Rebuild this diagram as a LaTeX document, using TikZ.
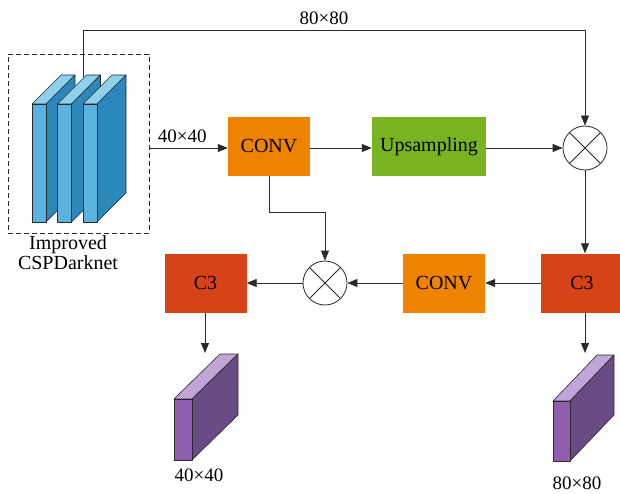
\documentclass[tikz,border=0pt]{standalone}
\usepackage{fontspec}
\setmainfont{Liberation Serif}
\usetikzlibrary{arrows.meta,calc}

\definecolor{convorange}{HTML}{EE8300}
\definecolor{upsgreen}{HTML}{78B422}
\definecolor{cthreered}{HTML}{D64318}
\definecolor{bluefront}{HTML}{5AB3DF}
\definecolor{blueside}{HTML}{2A88BD}
\definecolor{bluetop}{HTML}{8FD0EC}
\definecolor{purpfront}{HTML}{8F5EAE}
\definecolor{purpside}{HTML}{694B86}
\definecolor{purptop}{HTML}{C2A5D8}
\definecolor{linegray}{HTML}{2A2A2A}

% slab: #1,#2 front top-left corner, #3 width, #4 height, #5,#6 depth offset,
% #7 front colour, #8 side colour, #9 top colour
\newcommand\drawslab[9]{%
  \filldraw[fill=#9,draw=linegray,line width=0.6pt,line join=round]
    (#1,#2) -- ++(#5,#6) -- ++(#3,0) -- (#1+#3,#2) -- cycle;
  \filldraw[fill=#8,draw=linegray,line width=0.6pt,line join=round]
    (#1+#3,#2) -- ++(#5,#6) -- ++(0,#4) -- (#1+#3,#2+#4) -- cycle;
  \filldraw[fill=#7,draw=linegray,line width=0.6pt,line join=round]
    (#1,#2) rectangle ++(#3,#4);
}

\tikzset{
  block/.style={draw=none, minimum width=82pt,
    minimum height=59pt, inner sep=0pt, font=\fontsize{20}{22}\selectfont},
  convbox/.style={block, fill=convorange},
  upsbox/.style={block, fill=upsgreen, minimum width=114pt},
  cthreebox/.style={block, fill=cthreered},
  mult/.style={circle, draw=linegray, line width=0.8pt, minimum size=44pt,
    inner sep=0pt, fill=white,
    path picture={\draw[line width=0.8pt,linegray]
      (path picture bounding box.north west) -- (path picture bounding box.south east)
      (path picture bounding box.north east) -- (path picture bounding box.south west);}},
  arr/.style={-{Triangle[length=10pt,width=8pt]}, line width=0.8pt, draw=linegray},
  lbl/.style={font=\fontsize{19}{21}\selectfont, inner sep=0pt}
}

\begin{document}
\begin{tikzpicture}[x=1pt,y=-1pt]
  \useasboundingbox (0,0) rectangle (620,494);

  % backbone group
  \node[draw=linegray, dashed, line width=0.7pt, dash pattern=on 5pt off 3pt,
    minimum width=141pt, minimum height=179pt, inner sep=0pt] (backbone) at (78.5,143.5) {};
  \drawslab{32}{104}{14}{118}{29}{-29}{bluefront}{blueside}{bluetop}
  \drawslab{57.5}{104}{14}{118}{29}{-29}{bluefront}{blueside}{bluetop}
  \drawslab{83}{104}{14}{118}{29}{-29}{bluefront}{blueside}{bluetop}
  \coordinate (bbtop) at (83,77);
  \node[lbl, align=center, font=\fontsize{20}{20}\selectfont] (bbname) at (68,253)
    {Improved\\CSPDarknet};

  % main blocks
  \node[convbox] (conv1) at (269,146.5) {CONV};
  \node[upsbox] (ups) at (429,146.5) {Upsampling};
  \node[mult] (mulR) at (585,148) {};
  \node[cthreebox] (c3R) at (582,283) {C3};
  \node[convbox] (conv2) at (444,283) {CONV};
  \node[mult] (mulL) at (325,283) {};
  \node[cthreebox] (c3L) at (205.5,283) {C3};

  % outputs
  \drawslab{174}{399}{18}{61}{46}{-45}{purpfront}{purpside}{purptop}
  \drawslab{553}{401}{17}{60}{44}{-46}{purpfront}{purpside}{purptop}
  \coordinate (outL) at (205,353);
  \coordinate (outR) at (585,353);
  \node[lbl] (lblL) at (199,475) {40×40};
  \node[lbl] (lblR) at (577,483) {80×80};

  % connectors
  \draw[arr] (bbtop) -- (83,30) -| node[lbl, pos=0.24, above=5pt] (lblTop) {80×80} (mulR.north);
  \draw[arr] (backbone.east |- mulR.west) -- node[lbl, above=5pt, pos=0.42] (lbl40) {40×40} (conv1.west |- mulR.west);
  \draw[arr] (conv1.east |- mulR.west) -- (ups.west |- mulR.west);
  \draw[arr] (ups.east |- mulR.west) -- (mulR);
  \draw[arr] (mulR.south) -- (mulR.south |- c3R.north);
  \draw[arr] (c3R) -- (conv2);
  \draw[arr] (conv2) -- (mulL);
  \draw[arr] (mulL) -- (c3L);
  \draw[arr] (conv1.south) |- (325,212) -- (mulL.north);
  \draw[arr] (c3L.south -| outL) -- (outL);
  \draw[arr] (c3R.south -| outR) -- (outR);
\end{tikzpicture}
\end{document}
